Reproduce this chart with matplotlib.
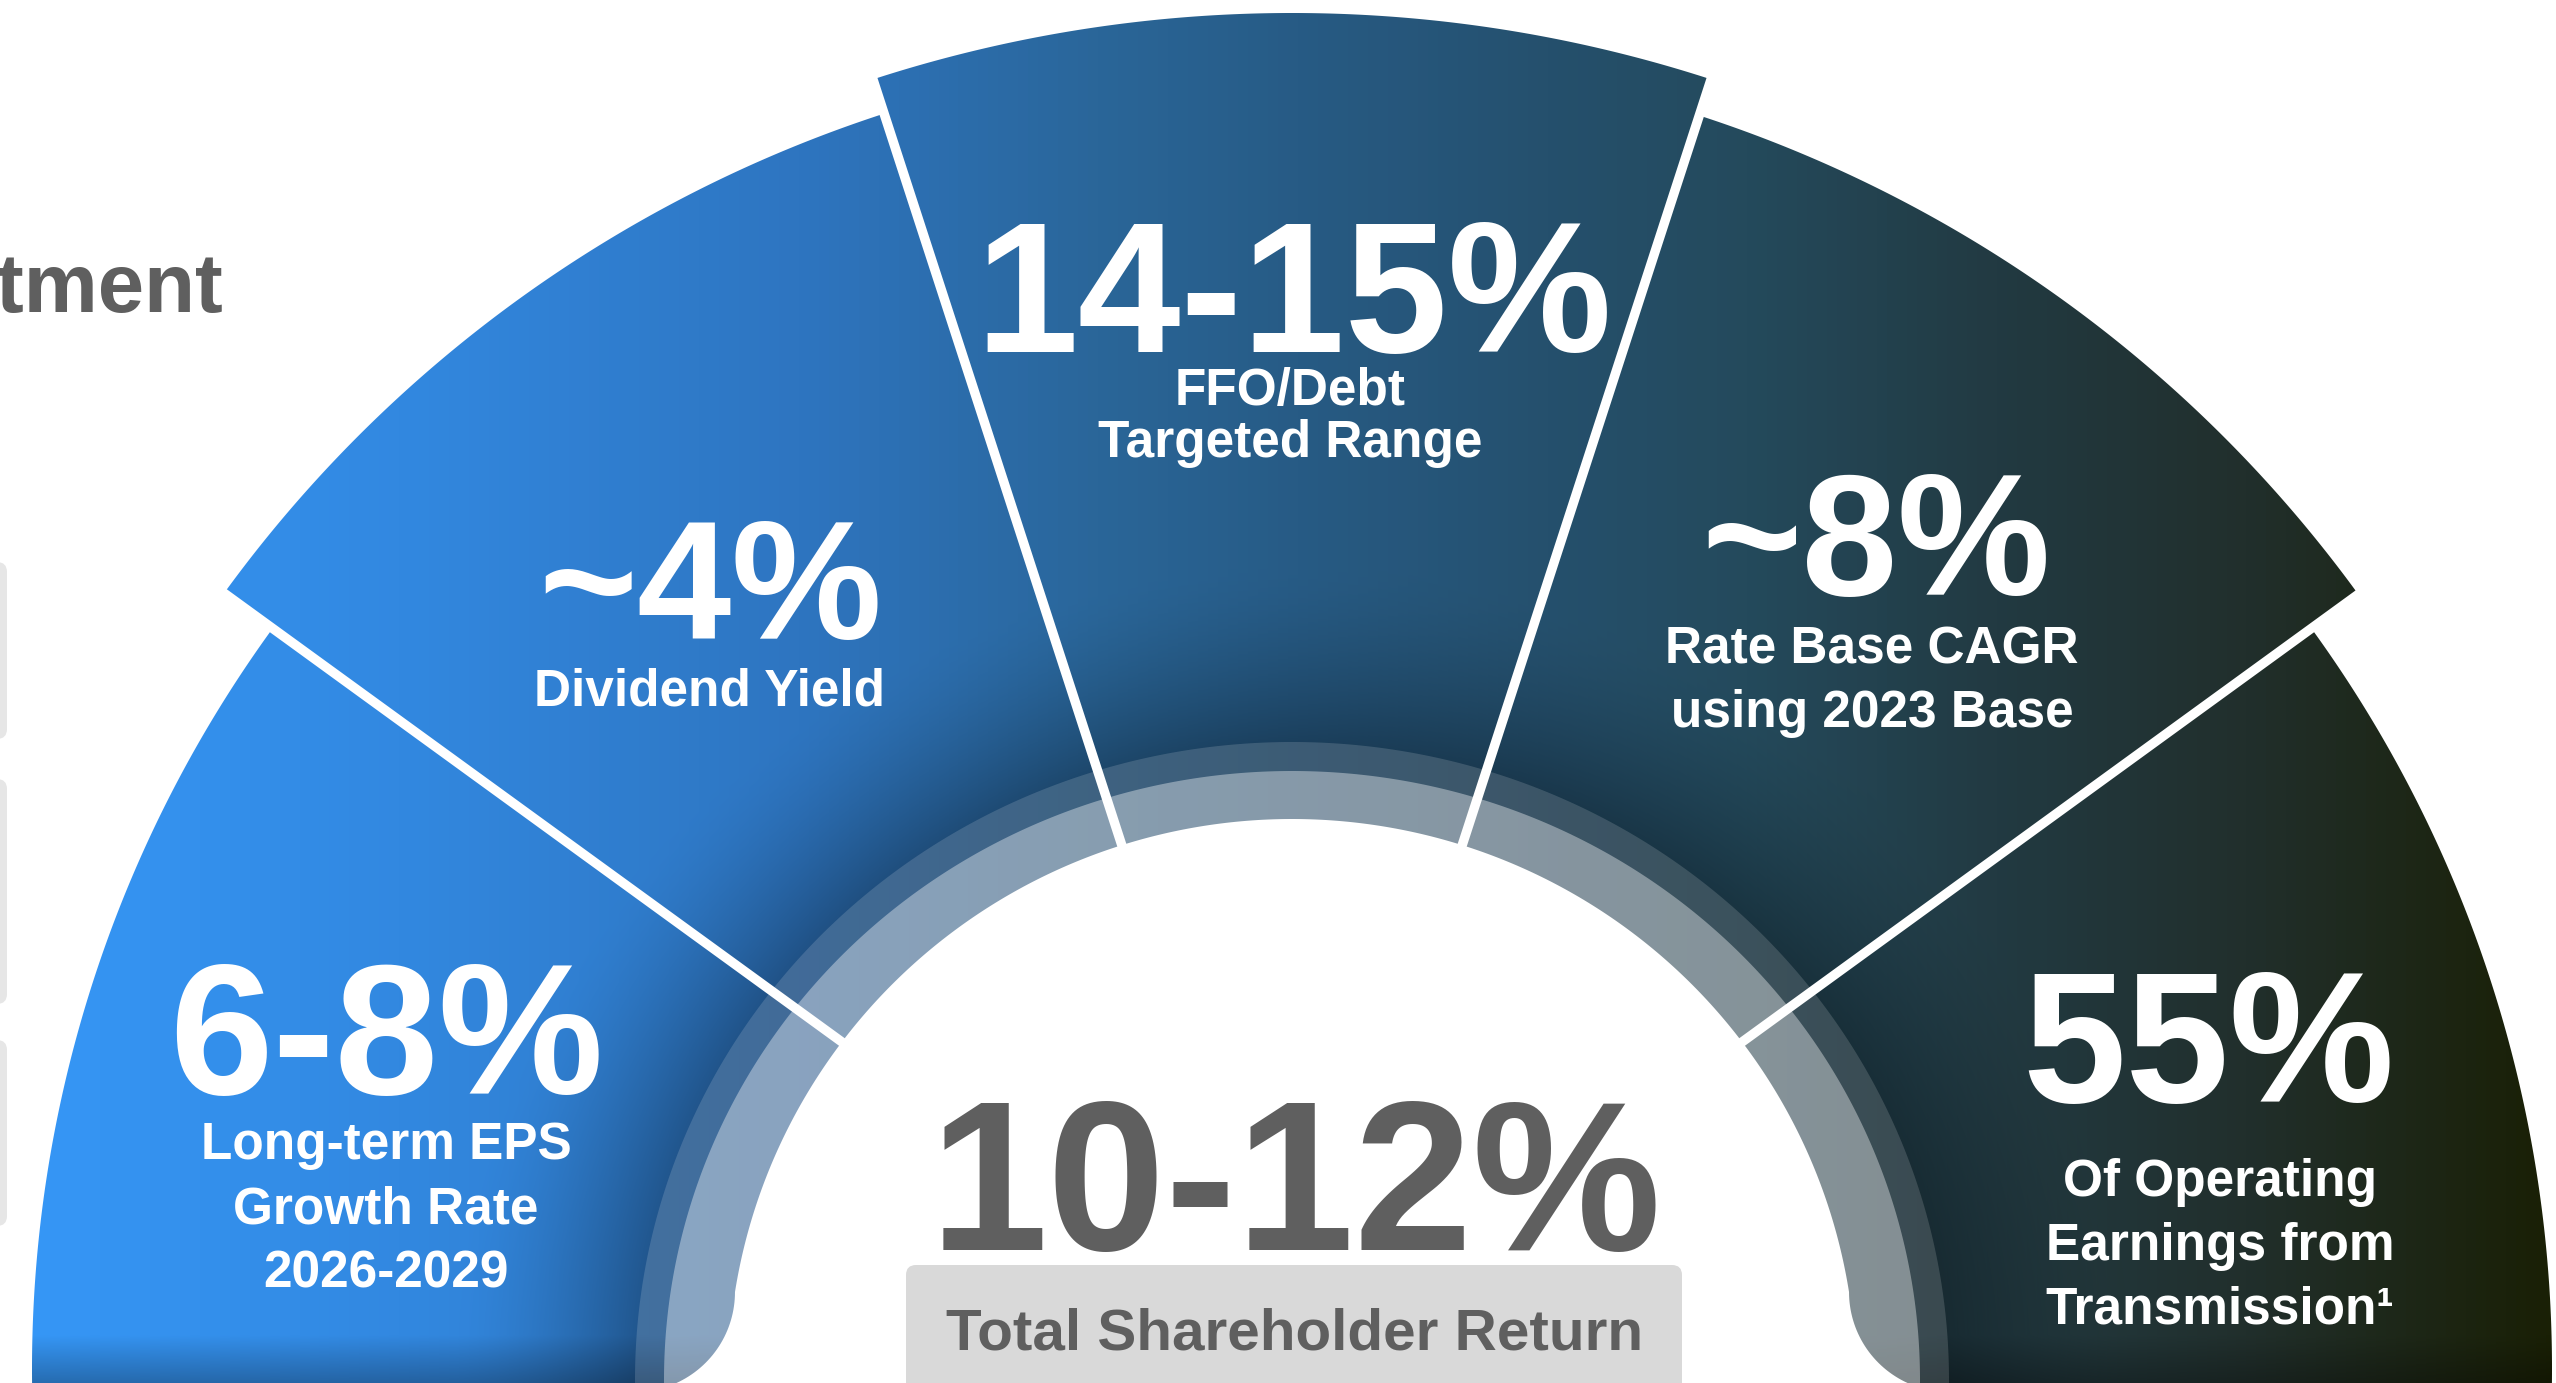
import numpy as np
import matplotlib.pyplot as plt
from matplotlib.path import Path
from matplotlib.patches import PathPatch, Polygon, FancyBboxPatch
from matplotlib.colors import LinearSegmentedColormap

plt.rcParams['font.family'] = ['Liberation Sans', 'DejaVu Sans']

W, H = 2556, 1383          # canvas in pixels, y runs downwards
CX, CY = 1292, 1369        # hub of the fan
RING_CY = 1380             # centre of the grey ring / white hole

# ---- data -------------------------------------------------------------
big_values = ['6-8%', '~4%', '14-15%', '~8%', '55%']
captions = [['Long-term EPS', 'Growth Rate', '2026-2029'],
            ['Dividend Yield'],
            ['FFO/Debt', 'Targeted Range'],
            ['Rate Base CAGR', 'using 2023 Base'],
            ['Of Operating', 'Earnings from', 'Transmission\u00b9']]
shares = [1, 1, 1, 1, 1]
center_value = '10-12%'
center_caption = 'Total Shareholder Return'

# ---- styling / placement ---------------------------------------------
outer_r = [1260, 1320, 1356, 1318, 1260]
value_pos = [(386, 1094), (710, 639), (1294, 352), (1876, 595), (2208, 1102)]
value_size = [134, 122, 133, 124, 134]
caption_x = [386, 709, 1290, 1872, 2220]
caption_y = [[1159, 1223, 1287], [705], [405, 457], [663, 727], [1196, 1260, 1323]]

grad_stops = [(0, '#3698f8'), (400, '#3288e0'), (800, '#2e75c0'), (1100, '#2a6699'),
              (1300, '#275b85'), (1550, '#25506d'), (1750, '#244a5c'),
              (2000, '#223a42'), (2250, '#212f2c'), (2556, '#1a2005')]

fig = plt.figure(figsize=(W / 100, H / 100), dpi=100)
ax = fig.add_axes([0, 0, 1, 1])
ax.set_xlim(0, W)
ax.set_ylim(H, 0)
ax.axis('off')


def pt(r, deg, cy=CY):
    t = np.radians(deg)
    return CX + r * np.cos(t), cy - r * np.sin(t)


# segment boundaries (degrees, 180 on the left)
edges = 180 - np.concatenate([[0], np.cumsum(shares)]) * 180.0 / sum(shares)

# wedges as one compound clip path
paths = []
for i in range(len(shares)):
    a0, a1 = edges[i], edges[i + 1]
    if i == 0:
        a0 += 3
    if i == len(shares) - 1:
        a1 -= 3
    tt = np.linspace(a0, a1, 200)
    xs, ys = pt(outer_r[i], tt)
    verts = np.column_stack([np.r_[CX, xs, CX], np.r_[CY, ys, CY]])
    codes = [Path.MOVETO] + [Path.LINETO] * (len(verts) - 2) + [Path.CLOSEPOLY]
    paths.append(Path(verts, codes))
fan = PathPatch(Path.make_compound_path(*paths), facecolor='none', edgecolor='none')
ax.add_patch(fan)

# horizontal gradient with a soft shadow around the ring
cmap = LinearSegmentedColormap.from_list('fan', [(p / W, c) for p, c in grad_stops])
X, Y = np.meshgrid(np.arange(W) + 0.5, np.arange(H) + 0.5)
rgb = cmap(X / W)[..., :3]
rr = np.sqrt(((X - CX) / 657.0) ** 2 + ((Y - RING_CY) / 638.0) ** 2)
d = (rr - 1) * 650
shade = 1 - 0.30 * np.clip(1 - d / 180.0, 0, 1) ** 1.6
shade *= 1 - 0.28 * np.clip((Y - 1335) / 48.0, 0, 1)
rgb = rgb * shade[..., None]
im = ax.imshow(rgb, extent=(0, W, H, 0), origin='upper', interpolation='bilinear', zorder=1)
im.set_clip_path(fan)

# translucent bands of the ring
tt = np.linspace(-5, 185, 400)
for a, b, alpha in [(657, 638, 0.15), (628, 609, 0.38)]:
    ex = CX + a * np.cos(np.radians(tt))
    ey = RING_CY - b * np.sin(np.radians(tt))
    ax.add_patch(Polygon(np.column_stack([ex, ey]), closed=True, facecolor='white',
                         edgecolor='none', alpha=alpha, zorder=2))

# white separators
for k in range(1, len(shares)):
    r_out = max(outer_r[k - 1], outer_r[k]) + 5
    x0, y0 = pt(540, edges[k])
    x1, y1 = pt(r_out, edges[k])
    ax.plot([x0, x1], [y0, y1], color='white', lw=6.8, solid_capstyle='butt', zorder=3)

# white hole: arch with rounded, flared feet
a_in, b_in = 564, 561
foot_y, foot_r = 1292, 100
t0 = np.degrees(np.arcsin((RING_CY - foot_y) / b_in))
arc_t = np.linspace(180 - t0, t0, 300)
arc = np.column_stack([CX + a_in * np.cos(np.radians(arc_t)),
                       RING_CY - b_in * np.sin(np.radians(arc_t))])
xl, xr = arc[0, 0], arc[-1, 0]
phi = np.radians(np.linspace(80, 0, 40))
left_foot = np.column_stack([xl - foot_r + foot_r * np.cos(phi), foot_y + foot_r * np.sin(phi)])
right_foot = np.column_stack([xr + foot_r - foot_r * np.cos(phi[::-1]),
                              foot_y + foot_r * np.sin(phi[::-1])])
hole = np.vstack([[(left_foot[0, 0], 1420)], left_foot, arc, right_foot,
                  [(right_foot[-1, 0], 1420)]])
ax.add_patch(Polygon(hole, closed=True, facecolor='white', edgecolor='none', zorder=4))

# centre label box
ax.add_patch(FancyBboxPatch((906, 1265), 776, 160, boxstyle='round,pad=0,rounding_size=10',
                            facecolor='#d9d9d9', edgecolor='none', zorder=5))
ax.text(1296, 1250, center_value, ha='center', va='baseline', fontsize=153,
        fontweight='bold', color='#5f5f5f', zorder=6)
ax.text(1295, 1349, center_caption, ha='center', va='baseline', fontsize=42,
        fontweight='bold', color='#5f5f5f', zorder=6)

# segment texts
for i, val in enumerate(big_values):
    x, y = value_pos[i]
    ax.text(x, y, val, ha='center', va='baseline', fontsize=value_size[i],
            fontweight='bold', color='white', zorder=6)
    for line, ly in zip(captions[i], caption_y[i]):
        ax.text(caption_x[i], ly, line, ha='center', va='baseline', fontsize=37,
                fontweight='bold', color='white', zorder=6)

# cut-off pieces from the rest of the slide
ax.text(-4, 312, 'tment', ha='left', va='baseline', fontsize=60, fontweight='bold',
        color='#5f5f5f', zorder=6)
for top, bottom in [(562, 739), (779, 1004), (1040, 1226)]:
    ax.add_patch(FancyBboxPatch((-60, top), 67, bottom - top,
                                boxstyle='round,pad=0,rounding_size=10',
                                facecolor='#e6e6e6', edgecolor='none', zorder=1))

fig.savefig('out.png', dpi=100)
